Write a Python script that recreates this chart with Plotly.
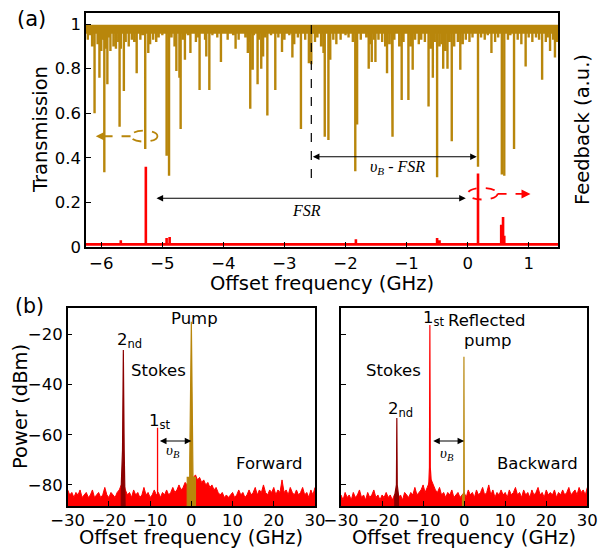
import numpy as np
import plotly.graph_objects as go

GOLD = "#B8860B"
RED = "#FF0000"
DARKRED = "#8B0000"
FONT = "DejaVu Sans"
SERIF = "Liberation Serif"

# ---------------- (a) transmission / feedback ----------------
dip_freq = [-6.11, -6.03, -5.95, -5.90, -5.70, -5.63, -5.42, -5.28, -5.23, -4.93, -4.89,
            -4.77, -4.72, -4.70, -4.63, -4.54, -4.39, -4.28, -4.23, -4.04, -3.80, -3.60,
            -3.56, -3.52, -3.44, -3.38, -3.35, -3.28, -3.15, -3.04, -2.87, -2.73, -2.60,
            -2.56, -2.36, -2.34, -2.28, -2.25, -1.84, -1.81, -1.62, -1.57, -1.51, -1.32,
            -1.24, -1.23, -1.08, -0.97, -0.90, -0.64, -0.57, -0.50, -0.40, -0.33, -0.26,
            -0.12, 0.17, 0.39, 0.56, 0.60, 0.76, 0.95, 1.22, 1.35, 1.43]
dip_level = [0.60, 0.76, 0.335, 0.73, 0.54, 0.70, 0.78, 0.44, 0.87, 0.41, 0.32,
             0.79, 0.76, 0.53, 0.84, 0.87, 0.705, 0.855, 0.705, 0.83, 0.89, 0.87,
             0.62, 0.795, 0.73, 0.80, 0.855, 0.59, 0.705, 0.875, 0.85, 0.53, 0.825,
             0.82, 0.87, 0.495, 0.48, 0.84, 0.34, 0.55, 0.80, 0.83, 0.83, 0.78,
             0.62, 0.495, 0.66, 0.66, 0.795, 0.63, 0.76, 0.313, 0.80, 0.80, 0.475,
             0.795, 0.36, 0.87, 0.325, 0.32, 0.44, 0.81, 0.75, 0.88, 0.85]

ripple_freq = [-6.22, -6.18, -6.15, -6.06, -6.00, -5.98, -5.92, -5.88, -5.85, -5.80, -5.76,
               -5.72, -5.68, -5.60, -5.55, -5.50, -5.46, -5.36, -5.32, -5.20, -5.15, -5.10,
               -5.06, -5.00, -4.85, -4.80, -4.66, -4.58, -4.45, -4.41, -4.30, -4.18, -4.10,
               -3.93, -3.84, -3.75, -3.64, -3.58, -3.50, -3.42, -3.32, -3.22, -3.10, -3.00,
               -2.92, -2.84, -2.78, -2.66, -2.50, -2.46, -2.40, -2.20, -2.15, -2.08, -2.00,
               -1.95, -1.88, -1.75, -1.66, -1.59, -1.53, -1.46, -1.40, -1.35, -1.28, -1.20,
               -1.12, -1.05, -0.93, -0.86, -0.80, -0.76, -0.70, -0.60, -0.54, -0.46, -0.42,
               -0.37, -0.30, -0.22, -0.16, -0.08, -0.03, 0.03, 0.08, 0.22, 0.28, 0.33,
               0.45, 0.50, 0.66, 0.70, 0.82, 0.88, 1.00, 1.06, 1.12, 1.17, 1.28, 1.31,
               1.40, 1.46]
ripple_level = [0.93, 0.95, 0.90, 0.91, 0.88, 0.93, 0.89, 0.94, 0.88, 0.90, 0.89,
                0.92, 0.89, 0.92, 0.90, 0.93, 0.92, 0.93, 0.95, 0.91, 0.93, 0.92,
                0.94, 0.95, 0.94, 0.90, 0.93, 0.95, 0.92, 0.94, 0.93, 0.95, 0.94,
                0.93, 0.95, 0.93, 0.94, 0.92, 0.95, 0.93, 0.94, 0.95, 0.94, 0.93,
                0.95, 0.91, 0.94, 0.93, 0.92, 0.94, 0.90, 0.93, 0.91, 0.93, 0.95,
                0.94, 0.92, 0.93, 0.94, 0.91, 0.93, 0.93, 0.92, 0.90, 0.91, 0.93,
                0.90, 0.92, 0.90, 0.93, 0.91, 0.93, 0.92, 0.89, 0.92, 0.90, 0.91,
                0.88, 0.92, 0.90, 0.92, 0.91, 0.93, 0.92, 0.94, 0.94, 0.93, 0.95,
                0.92, 0.94, 0.93, 0.95, 0.93, 0.91, 0.94, 0.92, 0.94, 0.93, 0.92, 0.94,
                0.93, 0.92]
band_level = 0.977

fb_freq = [-5.68, -5.27, -4.93, -4.88, -1.83, -0.50, -0.46, 0.17, 0.55, 0.58, 0.60]
fb_level = [0.03, 0.36, 0.04, 0.045, 0.035, 0.04, 0.03, 0.33, 0.10, 0.135, 0.05]
fb_base = 0.012

top_xticks = [-6, -5, -4, -3, -2, -1, 0, 1]
top_yticks = [0, 0.2, 0.4, 0.6, 0.8, 1]
top_yticktext = ["0", "0.2", "0.4", "0.6", "0.8", "1"]

# ---------------- (b) spectra ----------------
fwd_noise = [-82, -84, -83, -85, -83, -84, -82, -85, -84, -83, -85, -84, -82, -85, -84, -83,
             -85, -84, -81, -84, -85, -83, -84, -85, -83, -82, -80, -79, -82, -84, -83, -85,
             -82, -84, -83, -85, -84, -81, -84, -83, -85, -84, -82, -84, -83, -85, -83, -84,
             -82, -84, -83, -81, -83, -82, -80, -82, -81, -79, -80, -79, -78, -77, -76, -78,
             -77, -79, -78, -80, -79, -81, -80, -82, -81, -83, -84, -83, -85, -84, -85, -84,
             -83, -85, -84, -82, -84, -83, -85, -84, -82, -84, -83, -81, -84, -82, -83, -80,
             -83, -84, -82, -83, -81, -84, -82, -83, -78, -83, -82, -84, -81, -83, -84, -82,
             -84, -83, -81, -84, -83, -85, -82, -84, -81]
bwd_noise = [-84, -86, -83, -85, -84, -86, -83, -85, -84, -82, -85, -84, -86, -83, -85, -84,
             -82, -85, -84, -86, -84, -85, -83, -85, -84, -86, -84, -83, -85, -84, -86, -83,
             -84, -85, -83, -84, -81, -84, -83, -82, -80, -83, -81, -79, -78, -80, -82, -83,
             -81, -84, -83, -85, -83, -84, -82, -85, -84, -83, -85, -84, -83, -85, -82, -84,
             -83, -85, -82, -84, -83, -81, -84, -83, -80, -84, -82, -85, -83, -84, -82, -84,
             -83, -85, -82, -84, -83, -81, -84, -83, -85, -82, -84, -83, -85, -82, -84, -83,
             -81, -84, -83, -85, -82, -84, -83, -84, -82, -85, -83, -84, -82, -84, -83, -81,
             -84, -83, -82, -84, -81, -83, -82, -84, -81]
noise_span = (-30, 30)
floor_db = -95

fwd_pump_x = [-1.0, -1.0, -0.4, -0.4, 0.0, 0.4, 0.4, 1.0, 1.0]
fwd_pump_y = [-95, -77, -77, -72, -15, -72, -77, -77, -95]
fwd_s2_x = [-17.0, -17.0, -16.7, -16.5, -16.3, -16.0, -16.0]
fwd_s2_y = [-95, -80, -66, -26.2, -66, -80, -95]
fwd_s1_x = [-8.2, -8.2]
fwd_s1_y = [-95, -57.2]

bwd_s1_x = [-9.0, -8.6, -8.45, -8.35, -8.25, -8.0, -7.6]
bwd_s1_y = [-95, -78, -73, -16.3, -73, -79, -95]
bwd_pump_x = [-0.4, -0.4, -0.1, -0.05, 0.05, 0.05]
bwd_pump_y = [-95, -84, -84, -28.9, -84, -95]
bwd_s2_x = [-16.9, -16.9, -16.5, -16.4, -16.3, -16.0, -16.0]
bwd_s2_y = [-95, -84, -80, -53.3, -80, -84, -95]

b_xticks = [-30, -20, -10, 0, 10, 20, 30]
b_yticks = [-80, -60, -40, -20]

# ---------------- build figure ----------------
W, H = 607, 548
fig = go.Figure()

# transmission
pts = sorted(zip(dip_freq + ripple_freq, dip_level + ripple_level))
tx, ty = [], []
for f, d in pts:
    tx += [f, f, f]
    ty += [band_level, d, band_level]
top_range = [-6.25, 1.48]
fig.add_trace(go.Scatter(x=top_range, y=[band_level, band_level], mode="lines",
                         line=dict(color=GOLD, width=9), xaxis="x", yaxis="y", hoverinfo="skip"))
fig.add_trace(go.Scatter(x=tx, y=ty, mode="lines", line=dict(color=GOLD, width=2.4),
                         xaxis="x", yaxis="y"))
# feedback
fx, fy = [top_range[0]], [fb_base]
for f, d in zip(fb_freq, fb_level):
    fx += [f, f, f]
    fy += [fb_base, d, fb_base]
fx.append(top_range[1]); fy.append(fb_base)
fig.add_trace(go.Scatter(x=fx, y=fy, mode="lines", line=dict(color=RED, width=2.6),
                         xaxis="x", yaxis="y"))

# spectra
for noise, xa, ya in [(fwd_noise, "x2", "y2"), (bwd_noise, "x3", "y3")]:
    nxx = np.linspace(noise_span[0], noise_span[1], len(noise))
    fig.add_trace(go.Scatter(x=nxx, y=[floor_db] * len(noise), mode="lines",
                             line=dict(color=RED, width=0), xaxis=xa, yaxis=ya, hoverinfo="skip"))
    fig.add_trace(go.Scatter(x=nxx, y=noise, mode="lines", fill="tonexty", fillcolor=RED,
                             line=dict(color=RED, width=1), xaxis=xa, yaxis=ya))

def peak(x, y, color, xa, ya, w=1.2):
    fig.add_trace(go.Scatter(x=x, y=y, mode="lines", fill="toself", fillcolor=color,
                             line=dict(color=color, width=w), xaxis=xa, yaxis=ya))

peak(fwd_s2_x, fwd_s2_y, DARKRED, "x2", "y2")
peak(fwd_s1_x, fwd_s1_y, RED, "x2", "y2", 1.3)
peak(fwd_pump_x, fwd_pump_y, GOLD, "x2", "y2")
peak(bwd_s2_x, bwd_s2_y, DARKRED, "x3", "y3")
peak(bwd_s1_x, bwd_s1_y, RED, "x3", "y3")
peak(bwd_pump_x, bwd_pump_y, GOLD, "x3", "y3")

# axes
def px_x(a, b):
    return [a / W, b / W]

def px_y(top, bottom):
    return [1 - bottom / H, 1 - top / H]

tickfont = dict(family=FONT, size=16.5, color="black")
common = dict(showline=True, mirror=True, linecolor="black", linewidth=1.5,
              ticks="inside", ticklen=5, tickwidth=1, tickcolor="black",
              showgrid=False, zeroline=False, tickfont=tickfont, automargin=False)

fig.update_layout(
    template="none",
    width=W, height=H, margin=dict(l=0, r=0, t=0, b=0, pad=0),
    paper_bgcolor="white", plot_bgcolor="white", showlegend=False,
    xaxis=dict(domain=px_x(86, 558), range=top_range, anchor="y", tickvals=top_xticks, **common),
    yaxis=dict(domain=px_y(13, 247), range=[0, 1.05], anchor="x", tickvals=top_yticks,
               ticktext=top_yticktext, **common),
    xaxis2=dict(domain=px_x(67.7, 315), range=[-30, 30], anchor="y2", tickvals=b_xticks,
                ticklabelstandoff=-2, **common),
    yaxis2=dict(domain=px_y(308.3, 506), range=[-88.4, -9.6], anchor="x2", tickvals=b_yticks, **common),
    xaxis3=dict(domain=px_x(341, 587.3), range=[-30, 30], anchor="y3", tickvals=b_xticks,
                ticklabelstandoff=-2, **common),
    yaxis3=dict(domain=px_y(308.3, 506), range=[-88.4, -9.6], anchor="x3", tickvals=b_yticks,
                showticklabels=False, **common),
)

ann = []
shapes = []

def txt(x, y, s, xref, yref, size=16.5, family=FONT, **kw):
    d = dict(x=x, y=y, xref=xref, yref=yref, text=s, showarrow=False,
             xanchor="center", yanchor="middle",
             font=dict(family=family, size=size, color="black"))
    d.update(kw)
    ann.append(d)

def darrow(x0, x1, y, xref, yref, color="black"):
    ann.append(dict(x=x1, y=y, ax=x0, ay=y, xref=xref, yref=yref, axref=xref, ayref=yref,
                    text="", showarrow=True, arrowhead=2, arrowside="end+start",
                    arrowsize=1.2, arrowwidth=1.1, arrowcolor=color))

def harrow(x0, x1, y, xref, yref, color):
    ann.append(dict(x=x1, y=y, ax=x0, ay=y, xref=xref, yref=yref, axref=xref, ayref=yref,
                    text="", showarrow=True, arrowhead=2, arrowsize=1.2, arrowwidth=1.5,
                    arrowcolor=color))

def P(xp, yp):
    return xp / W, 1 - yp / H

# panel labels and axis titles (pixel positions)
x, y = P(31, 19); txt(x, y, "(a)", "paper", "paper", size=21)
x, y = P(29, 306); txt(x, y, "(b)", "paper", "paper", size=20.5)
x, y = P(40, 130); txt(x, y, "Transmission", "paper", "paper", size=19.5, textangle=-90)
x, y = P(582, 130); txt(x, y, "Feedback (a.u.)", "paper", "paper", size=19.5, textangle=-90)
x, y = P(322, 283); txt(x, y, "Offset frequency (GHz)", "paper", "paper", size=19.5)
x, y = P(20, 407); txt(x, y, "Power (dBm)", "paper", "paper", size=19.5, textangle=-90)
x, y = P(191, 537); txt(x, y, "Offset frequency (GHz)", "paper", "paper", size=19.5)
x, y = P(464, 537); txt(x, y, "Offset frequency (GHz)", "paper", "paper", size=19.5)

# top annotations
shapes.append(dict(type="line", x0=-2.56, x1=-2.56, y0=0.31, y1=1.0, xref="x", yref="y",
                   line=dict(color="black", width=1.2, dash="dash")))
darrow(-2.56, 0.15, 0.405, "x", "y")
txt(-1.15, 0.355, "<i>υ<sub>B</sub> - FSR</i>", "x", "y", size=16, family=SERIF)
darrow(-5.12, -0.03, 0.219, "x", "y")
txt(-2.64, 0.165, "<i>FSR</i>", "x", "y", size=16, family=SERIF)

shapes.append(dict(type="circle", x0=-5.52, x1=-5.08, y0=0.473, y1=0.522, xref="x", yref="y",
                   line=dict(color=GOLD, width=1.8, dash="dash")))
shapes.append(dict(type="line", x0=-5.52, x1=-6.0, y0=0.497, y1=0.497, xref="x", yref="y",
                   line=dict(color=GOLD, width=1.8, dash="dash")))
harrow(-5.98, -6.09, 0.497, "x", "y", GOLD)
shapes.append(dict(type="circle", x0=0.0, x1=0.49, y0=0.213, y1=0.265, xref="x", yref="y",
                   line=dict(color=RED, width=1.8, dash="dash")))
shapes.append(dict(type="line", x0=0.49, x1=0.95, y0=0.238, y1=0.238, xref="x", yref="y",
                   line=dict(color=RED, width=1.8, dash="dash")))
harrow(0.93, 1.03, 0.238, "x", "y", RED)

# forward annotations
txt(0.8, -13.6, "Pump", "x2", "y2")
txt(-15.0, -22.5, "2<sub>nd</sub>", "x2", "y2")
txt(-8.0, -34.2, "Stokes", "x2", "y2")
txt(-7.6, -54.8, "1<sub>st</sub>", "x2", "y2")
txt(18.9, -71.4, "Forward", "x2", "y2")
darrow(-8.0, 0.0, -62.5, "x2", "y2")
txt(-4.4, -66.5, "<i>υ<sub>B</sub></i>", "x2", "y2", size=15, family=SERIF)

# backward annotations
txt(-7.4, -13.8, "1<sub>st</sub>", "x3", "y3")
txt(5.6, -14.3, "Reflected", "x3", "y3")
txt(5.6, -22.5, "pump", "x3", "y3")
txt(-17.3, -34.2, "Stokes", "x3", "y3")
txt(-15.4, -49.8, "2<sub>nd</sub>", "x3", "y3")
txt(17.9, -71.4, "Backward", "x3", "y3")
darrow(-7.9, 0.0, -62.5, "x3", "y3")
txt(-4.3, -67.5, "<i>υ<sub>B</sub></i>", "x3", "y3", size=15, family=SERIF)

fig.update_layout(annotations=ann, shapes=shapes)
fig.write_html("out.html", config={"displayModeBar": False},
               post_script="document.body.style.margin='0';document.body.style.padding='0';")
